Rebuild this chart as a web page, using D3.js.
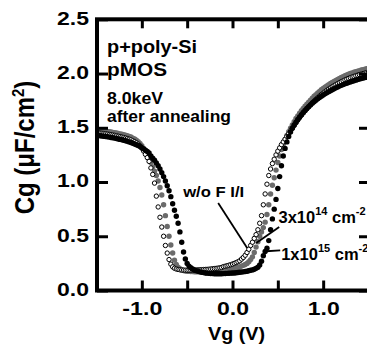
<!DOCTYPE html>
<meta charset="utf-8"/>
<title>Cg-Vg</title>
<script src="https://cdn.jsdelivr.net/npm/d3@7"></script>
<style>
  body { margin: 0; background: #fff; }
  svg { display: block; font-family: 'Liberation Sans', Arial, sans-serif; font-weight: bold; }
</style>
<svg width=367 height=354></svg>
<script>
  // gate voltage sweep (V)
  const vg = [
    -1.50,-1.48,-1.46,-1.44,-1.42,-1.40,-1.38,-1.36,-1.34,-1.32,
    -1.30,-1.28,-1.26,-1.24,-1.22,-1.20,-1.18,-1.16,-1.14,-1.12,
    -1.10,-1.08,-1.06,-1.04,-1.02,-1.00,-0.98,-0.96,-0.94,-0.92,
    -0.90,-0.88,-0.86,-0.84,-0.82,-0.80,-0.78,-0.76,-0.74,-0.72,
    -0.70,-0.68,-0.66,-0.64,-0.62,-0.60,-0.58,-0.56,-0.54,-0.52,
    -0.50,-0.48,-0.46,-0.44,-0.42,-0.40,-0.38,-0.36,-0.34,-0.32,
    -0.30,-0.28,-0.26,-0.24,-0.22,-0.20,-0.18,-0.16,-0.14,-0.12,
    -0.10,-0.08,-0.06,-0.04,-0.02,0.00,0.02,0.04,0.06,0.08,
    0.10,0.12,0.14,0.16,0.18,0.20,0.22,0.24,0.26,0.28,
    0.30,0.32,0.34,0.36,0.38,0.40,0.42,0.44,0.46,0.48,
    0.50,0.52,0.54,0.56,0.58,0.60,0.62,0.64,0.66,0.68,
    0.70,0.72,0.74,0.76,0.78,0.80,0.82,0.84,0.86,0.88,
    0.90,0.92,0.94,0.96,0.98,1.00,1.02,1.04,1.06,1.08,
    1.10,1.12,1.14,1.16,1.18,1.20,1.22,1.24,1.26,1.28,
    1.30,1.32,1.34,1.36,1.38,1.40,1.42,1.44,1.46,1.48,
    1.50
  ];
  // Cg (uF/cm2), F I/I 3x10^14 cm^-2 (gray dots)
  const cg3e14 = [
    1.48,1.478,1.476,1.474,1.472,1.47,1.467,1.464,1.461,1.458,
    1.455,1.452,1.448,1.444,1.44,1.436,1.431,1.426,1.421,1.415,
    1.405,1.396,1.386,1.372,1.355,1.335,1.31,1.283,1.253,1.22,
    1.18,1.14,1.10,1.06,1.01,0.95,0.88,0.79,0.69,0.59,
    0.50,0.42,0.345,0.28,0.24,0.215,0.20,0.19,0.185,0.18,
    0.178,0.176,0.175,0.174,0.173,0.172,0.172,0.172,0.172,0.172,
    0.172,0.173,0.174,0.175,0.176,0.177,0.179,0.181,0.183,0.185,
    0.188,0.19,0.192,0.195,0.198,0.20,0.204,0.208,0.213,0.218,
    0.225,0.232,0.24,0.25,0.265,0.285,0.31,0.35,0.40,0.45,
    0.50,0.54,0.58,0.63,0.70,0.79,0.89,0.97,1.04,1.11,
    1.18,1.24,1.30,1.35,1.39,1.43,1.465,1.495,1.525,1.555,
    1.585,1.61,1.635,1.657,1.678,1.698,1.717,1.736,1.754,1.772,
    1.79,1.805,1.82,1.835,1.85,1.862,1.874,1.886,1.897,1.908,
    1.918,1.928,1.937,1.946,1.955,1.963,1.971,1.979,1.986,1.993,
    2.0,2.006,2.012,2.017,2.022,2.027,2.032,2.036,2.04,2.044,
    2.048
  ];
  // w/o F I/I (open circles)
  const cgNoF = [
    1.455,1.453,1.451,1.449,1.447,1.445,1.442,1.439,1.436,1.433,
    1.43,1.426,1.422,1.418,1.414,1.41,1.405,1.4,1.395,1.389,
    1.38,1.372,1.362,1.35,1.334,1.312,1.285,1.255,1.225,1.19,
    1.13,1.07,0.99,0.87,0.77,0.675,0.585,0.50,0.415,0.345,
    0.285,0.243,0.218,0.205,0.198,0.194,0.191,0.189,0.188,0.187,
    0.186,0.186,0.186,0.187,0.188,0.189,0.19,0.191,0.192,0.193,
    0.194,0.195,0.196,0.198,0.2,0.202,0.204,0.206,0.209,0.212,
    0.22,0.224,0.228,0.233,0.238,0.244,0.25,0.257,0.265,0.274,
    0.29,0.305,0.325,0.35,0.38,0.415,0.445,0.48,0.515,0.56,
    0.62,0.69,0.79,0.89,0.98,1.06,1.12,1.17,1.21,1.25,
    1.285,1.315,1.345,1.37,1.395,1.42,1.445,1.47,1.495,1.52,
    1.545,1.57,1.593,1.615,1.636,1.656,1.675,1.694,1.712,1.73,
    1.746,1.762,1.777,1.792,1.806,1.819,1.832,1.844,1.856,1.867,
    1.878,1.888,1.898,1.907,1.916,1.925,1.933,1.941,1.948,1.955,
    1.962,1.968,1.974,1.98,1.985,1.99,1.995,2.0,2.004,2.008,
    2.012
  ];
  // F I/I 1x10^15 cm^-2 (black dots)
  const cg1e15 = [
    1.43,1.428,1.426,1.424,1.422,1.42,1.417,1.414,1.411,1.408,
    1.405,1.401,1.397,1.393,1.389,1.385,1.38,1.375,1.37,1.364,
    1.358,1.351,1.344,1.336,1.327,1.317,1.306,1.294,1.281,1.267,
    1.24,1.22,1.20,1.175,1.15,1.12,1.085,1.05,1.01,0.965,
    0.92,0.865,0.80,0.74,0.685,0.62,0.54,0.445,0.355,0.29,
    0.25,0.225,0.21,0.198,0.19,0.183,0.177,0.172,0.168,0.165,
    0.162,0.16,0.158,0.157,0.156,0.155,0.155,0.155,0.155,0.155,
    0.156,0.157,0.158,0.159,0.16,0.161,0.162,0.164,0.166,0.168,
    0.17,0.172,0.175,0.178,0.182,0.186,0.19,0.196,0.204,0.215,
    0.235,0.27,0.32,0.36,0.39,0.46,0.56,0.66,0.75,0.84,
    0.94,1.05,1.15,1.24,1.31,1.37,1.42,1.46,1.495,1.525,
    1.552,1.577,1.6,1.621,1.641,1.66,1.678,1.695,1.711,1.726,
    1.74,1.754,1.767,1.779,1.791,1.802,1.813,1.823,1.833,1.842,
    1.851,1.86,1.868,1.876,1.884,1.891,1.898,1.905,1.911,1.917,
    1.923,1.929,1.934,1.939,1.944,1.949,1.954,1.958,1.962,1.966,
    1.97
  ];
  const xTicks = [-1.5, -1.0, -0.5, 0.0, 0.5, 1.0, 1.5];
  const xLabels = [-1.0, 0.0, 1.0];
  const yTicks = [0.0, 0.5, 1.0, 1.5, 2.0, 2.5];
  const infoLines = ["p+poly-Si", "pMOS", "8.0keV", "after annealing"];

  const svg = d3.select("svg");
  const x = d3.scaleLinear().domain([-1.5, 1.5]).range([96.5, 368.5]);
  const y = d3.scaleLinear().domain([0, 2.5]).range([290.5, 19.3]);

  svg.append("clipPath").attr("id", "plot")
    .append("rect").attr("x", 97).attr("y", 19).attr("width", 275).attr("height", 272);

  const marks = svg.append("g").attr("clip-path", "url(#plot)");

  function series(vals, fill, stroke, r) {
    marks.append("g").selectAll("circle")
      .data(vals).enter()
      .append("circle")
      .attr("cx", (d, i) => x(vg[i]))
      .attr("cy", d => y(d))
      .attr("r", r)
      .style("fill", fill)
      .style("stroke", stroke)
      .style("stroke-width", stroke == "none" ? 0 : 1);
  }
  series(cg3e14, "#6b6b6b", "none", 2.7);
  series(cgNoF, "#fff", "#000", 2.2);
  series(cg1e15, "#000", "none", 2.7);

  // axes (ticks pointing inward), plain hyphen for negatives
  const fmt = d => d3.format(".1f")(d).replace("\u2212", "-");
  const gl = svg.append("g").attr("transform", "translate(97,0)")
    .call(d3.axisLeft(y).tickValues(yTicks).tickSizeInner(-11).tickSizeOuter(0).tickPadding(8).tickFormat(fmt));
  gl.selectAll("text").attr("dy", "0.26em").attr("textLength", 32).attr("lengthAdjust", "spacingAndGlyphs");

  const gb = svg.append("g").attr("transform", "translate(0,290.5)")
    .call(d3.axisBottom(x).tickValues(xTicks).tickSizeInner(-10).tickSizeOuter(0).tickPadding(11)
      .tickFormat(d => xLabels.includes(d) ? fmt(d) : ""));
  gb.selectAll("text").each(function (d) {
    if (xLabels.includes(d)) d3.select(this).attr("textLength", d < 0 ? 40 : 32).attr("lengthAdjust", "spacingAndGlyphs");
  });

  svg.append("g").attr("transform", "translate(0,19.3)")
    .call(d3.axisTop(x).tickValues(xTicks).tickSizeInner(-9).tickSizeOuter(0).tickFormat(""));
  svg.append("g").attr("transform", "translate(369,0)")
    .call(d3.axisRight(y).tickValues(yTicks).tickSizeInner(-10).tickSizeOuter(0).tickFormat(""));

  svg.selectAll(".domain").remove();
  svg.selectAll(".tick line").style("stroke", "#000").style("stroke-width", 3);
  svg.selectAll(".tick text").style("font-size", "19px").style("font-family", "'Liberation Sans', Arial, sans-serif")
    .style("font-weight", "bold").style("fill", "#000");

  svg.append("rect")
    .attr("x", 97).attr("y", 19.3).attr("width", 272).attr("height", 271.2)
    .style("fill", "none").style("stroke", "#000").style("stroke-width", 4);

  // axis titles
  svg.append("text")
    .attr("x", 236.5).attr("y", 340).attr("text-anchor", "middle")
    .attr("textLength", 57).attr("lengthAdjust", "spacingAndGlyphs")
    .style("font-size", "19px").text("Vg (V)");

  const yt = svg.append("text")
    .attr("transform", "translate(34,147.5) scale(1.15,1) rotate(-90)")
    .attr("text-anchor", "middle")
    .style("font-size", "24px");
  yt.append("tspan").text("Cg (\u03bcF/cm");
  yt.append("tspan").attr("dy", -9).style("font-size", "15px").text("2");
  yt.append("tspan").attr("dy", 9).text(")");

  // info block
  const info = [
    {size: 18, len: 90, base: 53},
    {size: 19, len: 60, base: 76},
    {size: 16.5, len: 56, base: 104},
    {size: 16.5, len: 124, base: 122}
  ];
  infoLines.forEach((t, i) => {
    svg.append("text").attr("x", 107).attr("y", info[i].base)
      .attr("textLength", info[i].len).attr("lengthAdjust", "spacingAndGlyphs")
      .style("font-size", info[i].size + "px").text(t);
  });

  // annotations
  function pointer(from, to) {
    svg.append("line")
      .attr("x1", x(from[0])).attr("y1", y(from[1]))
      .attr("x2", x(to[0])).attr("y2", y(to[1]))
      .style("stroke", "#000").style("stroke-width", 1.8);
  }
  pointer([-0.158, 0.806], [0.162, 0.392]);
  pointer([0.515, 0.585], [0.262, 0.438]);
  pointer([0.372, 0.362], [0.526, 0.37]);

  svg.append("text").attr("x", x(-0.544)).attr("y", y(0.862))
    .attr("textLength", 61).attr("lengthAdjust", "spacingAndGlyphs")
    .style("font-size", "15px").text("w/o F I/I");

  function doseLabel(vx, cy, mant, ex) {
    const t = svg.append("text").attr("x", x(vx)).attr("y", y(cy)).style("font-size", "16.5px");
    t.append("tspan").text(mant);
    t.append("tspan").attr("dy", -8).style("font-size", "11px").text(ex);
    t.append("tspan").attr("dy", 8).text(" cm");
    t.append("tspan").attr("dy", -8).style("font-size", "11px").text("-2");
  }
  doseLabel(0.507, 0.619, "3x10", "14");
  doseLabel(0.537, 0.281, "1x10", "15");
</script>
